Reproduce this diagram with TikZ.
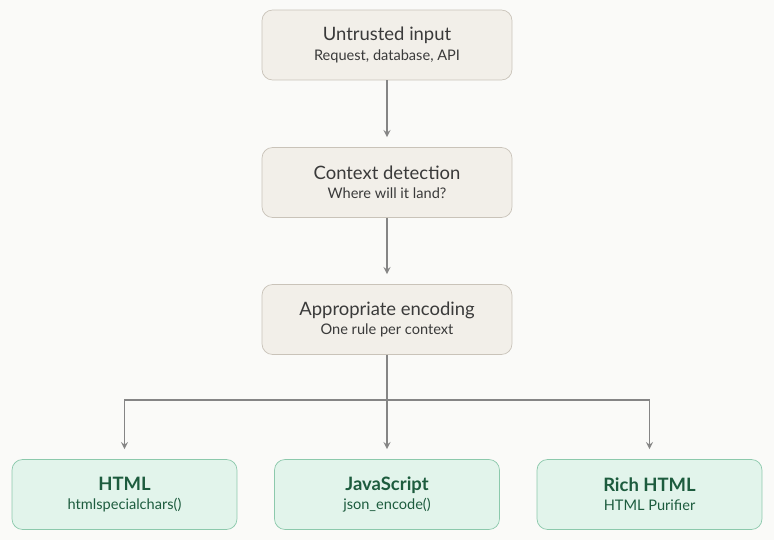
\documentclass[tikz,border=0pt]{standalone}
\usepackage{fontspec}
\setmainfont{Lato}
\definecolor{bgcol}{HTML}{FAFAF8}
\definecolor{stepfill}{HTML}{F2EFE9}
\definecolor{stepline}{HTML}{C9C3B9}
\definecolor{encfill}{HTML}{E2F4EB}
\definecolor{encline}{HTML}{8CC9AC}
\definecolor{enctext}{HTML}{1D5C3E}
\definecolor{arrowcol}{HTML}{858585}
\definecolor{maintext}{HTML}{3A3A3A}
\newcommand{\titletext}[1]{{\fontsize{10.5}{12}\selectfont #1}}
\newcommand{\subtext}[1]{{\fontsize{8.3}{10}\selectfont #1}}
\begin{document}
\begin{tikzpicture}[x=0.02cm, y=-0.02cm,
    stepbox/.style={draw=stepline, fill=stepfill, rounded corners=6pt, minimum width=5cm, minimum height=1.4cm, align=center, text=maintext},
    encbox/.style={draw=encline, fill=encfill, rounded corners=6pt, minimum width=4.5cm, minimum height=1.4cm, align=center, text=enctext},
    link/.style={->, >=stealth, draw=arrowcol, line width=0.8pt}]
	\fill[bgcol] (0,0) rectangle (774,540);
	\useasboundingbox (0,0) rectangle (774,540);

	\node[stepbox] (input) at (387,45) {\titletext{Untrusted input}\\[-1pt]\subtext{Request, database, API}};
	\node[stepbox] (detect) at (387,182.5) {\titletext{Context detection}\\[-1pt]\subtext{Where will it land?}};
	\node[stepbox] (encode) at (387,319.5) {\titletext{Appropriate encoding}\\[-1pt]\subtext{One rule per context}};

	\node[encbox] (html) at (124.5,494.5) {\titletext{\bfseries HTML}\\[-1pt]\subtext{htmlspecialchars()}};
	\node[encbox] (js) at (387,494.5) {\titletext{\bfseries JavaScript}\\[-1pt]\subtext{json\_encode()}};
	\node[encbox] (rich) at (649.5,494.5) {\titletext{\bfseries Rich HTML}\\[-1pt]\subtext{HTML Purifier}};

	\draw[link] (input) -- ([yshift=0.2cm]detect.north);
	\draw[link] (detect) -- ([yshift=0.2cm]encode.north);
	\coordinate (split) at (387,400);
	\draw[draw=arrowcol, line width=0.8pt] (encode.south) -- (split);
	\foreach \to in {html,js,rich}
		\draw[link] (split) -| ([yshift=0.2cm]\to.north);
\end{tikzpicture}
\end{document}
